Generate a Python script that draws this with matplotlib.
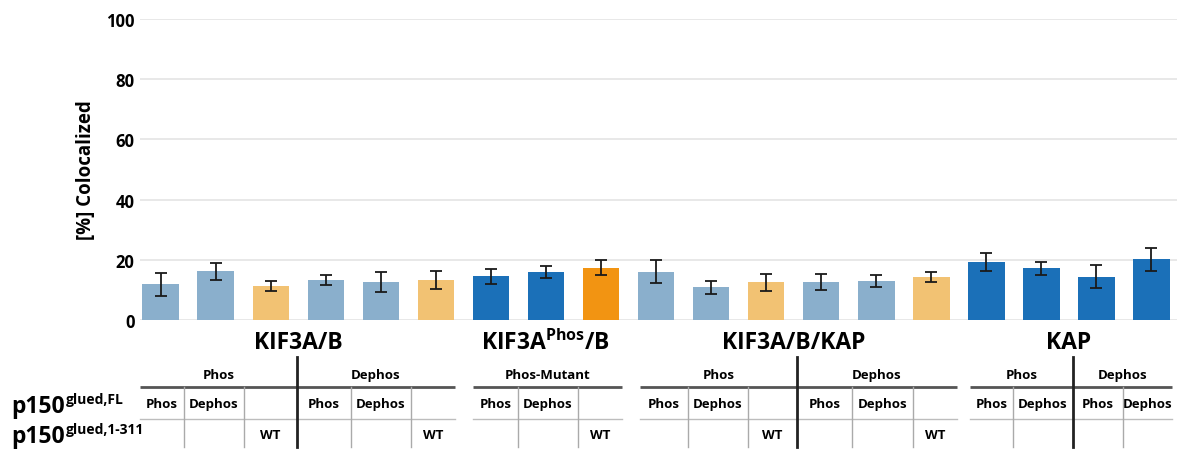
import numpy as np
import matplotlib.pyplot as plt
from matplotlib.transforms import blended_transform_factory

plt.rcParams['font.family'] = ['Open Sans', 'DejaVu Sans']
plt.rcParams['font.weight'] = 'bold'
plt.rcParams['mathtext.fontset'] = 'custom'
plt.rcParams['mathtext.bf'] = 'Open Sans:bold'
plt.rcParams['mathtext.rm'] = 'Open Sans:bold'

# colocalization (%) and SEM for each condition, left to right
values = [11.8, 16.2, 11.3, 13.3, 12.7, 13.3,
          14.5, 16.0, 17.4,
          16.0, 10.8, 12.6, 12.6, 12.9, 14.3,
          19.2, 17.2, 14.4, 20.1]
errors = [3.8, 2.9, 1.7, 1.8, 3.3, 2.9,
          2.5, 1.9, 2.6,
          3.8, 2.0, 2.8, 2.7, 2.0, 1.8,
          3.0, 2.2, 3.9, 3.9]
kinds = ['lb', 'lb', 'lo', 'lb', 'lb', 'lo',
         'b', 'b', 'o',
         'lb', 'lb', 'lo', 'lb', 'lb', 'lo',
         'b', 'b', 'b', 'b']
palette = {'lb': '#8aafcc', 'lo': '#f2c273', 'b': '#1b70b8', 'o': '#f29412'}

group_names = ['KIF3A/B', r'KIF3A$^{\mathbf{Phos}}$/B', 'KIF3A/B/KAP', 'KAP']
group_sizes = [6, 3, 6, 4]
header_labels = [['Phos', 'Dephos'], ['Phos-Mutant'], ['Phos', 'Dephos'], ['Phos', 'Dephos']]
fl_labels = [['Phos', 'Dephos', '', 'Phos', 'Dephos', ''],
             ['Phos', 'Dephos', ''],
             ['Phos', 'Dephos', '', 'Phos', 'Dephos', ''],
             ['Phos', 'Dephos', 'Phos', 'Dephos']]
trunc_labels = [['', '', 'WT', '', '', 'WT'],
                ['', '', 'WT'],
                ['', '', 'WT', '', '', 'WT'],
                ['', '', '', '']]

# column edges of the condition tables (in bar units) and where the halves split
col_edges = [[-0.38, 0.42, 1.51, 2.47, 3.45, 4.55, 5.35],
             [5.67, 6.49, 7.58, 8.38],
             [8.71, 9.58, 10.67, 11.56, 12.56, 13.67, 14.47],
             [14.71, 15.49, 16.58, 17.49, 18.38]]
half_split = [3, None, 3, 2]

fig = plt.figure(figsize=(11.77, 4.52), dpi=100)
ax = fig.add_axes([140 / 1177, 131 / 452, 1037 / 1177, 301 / 452])

x = np.arange(len(values))
ax.bar(x, values, width=0.67, color=[palette[k] for k in kinds], zorder=2)
ax.errorbar(x, values, yerr=errors, fmt='none', ecolor='#1a1a1a',
            elinewidth=1.3, capsize=4, capthick=1.3, zorder=3)

ax.set_xlim(-0.38, 18.47)
ax.set_ylim(0, 100)
ax.set_yticks(range(0, 101, 20))
ax.set_xticks([])
ax.yaxis.grid(True, color='#e4e4e4', lw=1.2)
ax.set_axisbelow(True)
ax.tick_params(axis='y', length=0, pad=4, labelsize=12)
for s in ax.spines.values():
    s.set_visible(False)
ax.set_ylabel('[%] Colocalized', fontsize=13.5, fontweight='bold', labelpad=7)

# y positions below the axis, in data units
y_group, y_head, y_hline = -7.3, -18.2, -22.4
y_fl, y_mid, y_trunc, y_bottom, y_top = -27.9, -32.9, -37.9, -42.3, -12.4

small = 9.5
start = 0
for g, name in enumerate(group_names):
    n = group_sizes[g]
    ax.text(start + (n - 1) / 2, y_group, name, ha='center', va='center',
            fontsize=16.5, fontweight='bold', clip_on=False)
    edges = col_edges[g]
    ax.plot([edges[0], edges[-1]], [y_hline, y_hline], color='#555555', lw=2,
            clip_on=False, solid_capstyle='butt')
    ax.plot([edges[0], edges[-1]], [y_mid, y_mid], color='#bdbdbd', lw=1,
            clip_on=False)
    split = half_split[g]
    halves = [(0, len(edges) - 1)] if split is None else [(0, split), (split, len(edges) - 1)]
    for h, (a, b) in enumerate(halves):
        ax.text((edges[a] + edges[b]) / 2, y_head, header_labels[g][h],
                ha='center', va='center', fontsize=small, fontweight='bold',
                clip_on=False)
    for c in range(1, len(edges) - 1):
        if c == split:
            ax.plot([edges[c], edges[c]], [y_top, y_bottom], color='#222222',
                    lw=2, clip_on=False)
        else:
            ax.plot([edges[c], edges[c]], [y_hline, y_bottom], color='#aaaaaa',
                    lw=1, clip_on=False)
    for c in range(len(edges) - 1):
        cx = (edges[c] + edges[c + 1]) / 2
        ax.text(cx, y_fl, fl_labels[g][c], ha='center', va='center',
                fontsize=small, fontweight='bold', clip_on=False)
        ax.text(cx, y_trunc, trunc_labels[g][c], ha='center', va='center',
                fontsize=small, fontweight='bold', clip_on=False)
    start += n

# row labels for the two p150 constructs
row_tf = blended_transform_factory(fig.transFigure, ax.transData)
for y, sup in [(y_fl, 'glued,FL'), (y_trunc, 'glued,1-311')]:
    t = ax.text(11 / 1177, y - 0.8, 'p150', transform=row_tf, ha='left',
                va='center', fontsize=16.5, fontweight='bold', clip_on=False)
    ax.annotate(sup, xy=(1.0, 0.5), xycoords=t, xytext=(1, 0),
                textcoords='offset points', ha='left', va='bottom',
                fontsize=10, fontweight='bold')

fig.savefig('out.png', dpi=100)
